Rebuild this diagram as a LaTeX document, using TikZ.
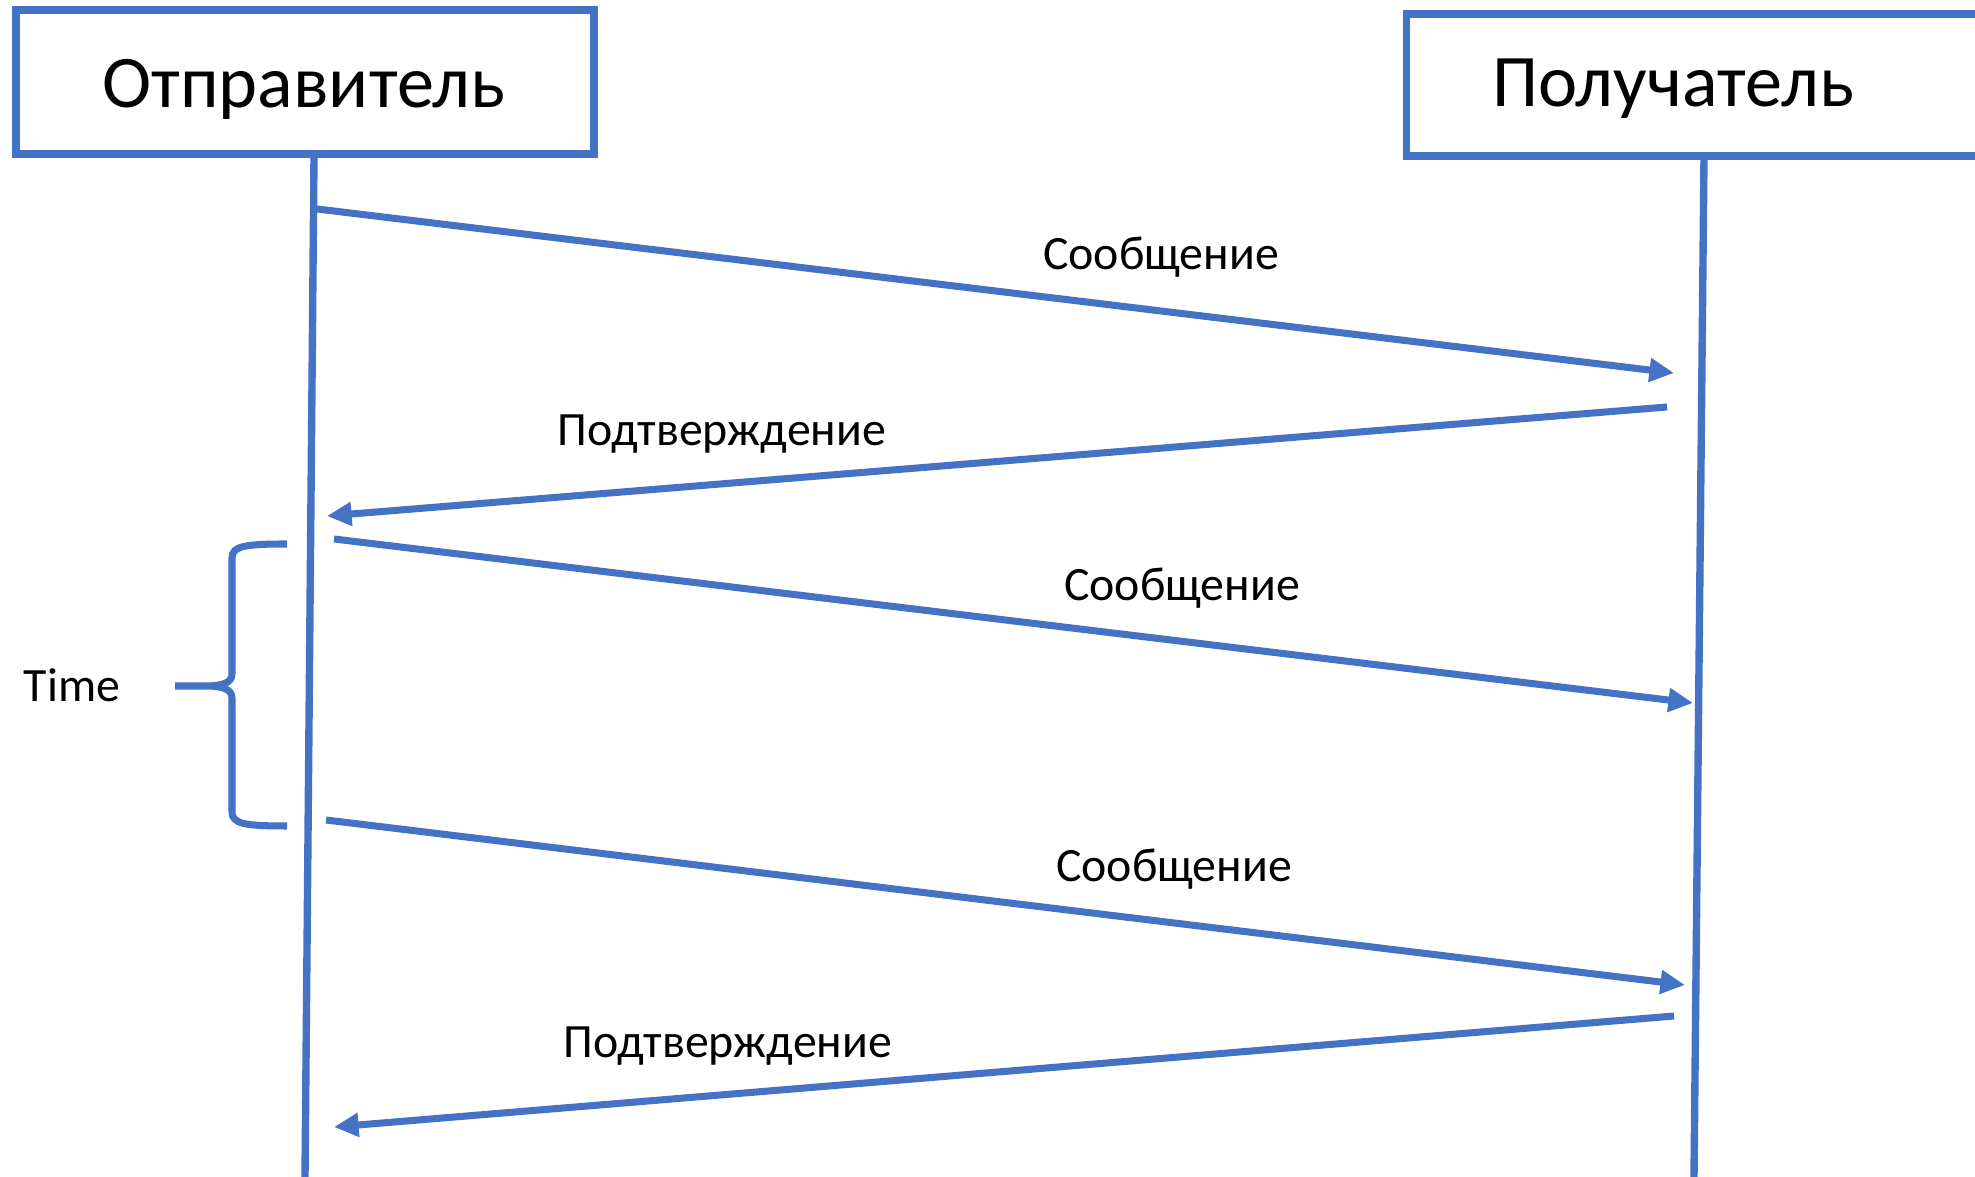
\documentclass[tikz,border=0pt]{standalone}
\usepackage{fontspec}
\setmainfont{Carlito}
\usepackage{tikz}
\usetikzlibrary{positioning,arrows.meta,calc}
\definecolor{lineblue}{HTML}{4472C4}

\begin{document}
\begin{tikzpicture}[
            x=0.01cm, y=-0.01cm,
            outer sep=0pt,
            % box of a participant
            actor/.style={
                draw=lineblue,
                line width=2.1pt,
                fill=white,
                inner sep=0pt
            },
            % title in the box
            title/.style={
                text=black,
                font=\fontsize{21.1}{25}\selectfont
            },
            % lifeline
            life/.style={
                draw=lineblue,
                line width=2.1pt
            },
            % message arrow
            msg/.style={
                draw=lineblue,
                line width=2pt,
                -{Triangle[length=7pt,width=6.5pt]}
            },
            % label over an arrow
            lbl/.style={
                text=black,
                font=\fontsize{13.6}{16}\selectfont
            }
        ]
            \useasboundingbox (0,0) rectangle (1975,1177);
            \clip (0,0) rectangle (1975,1177);

            % PARTICIPANTS
            \node[actor, minimum width=5.78cm, minimum height=1.44cm] (sender) at (305,82) {};
            \node[title] (sendertext) at (304,89) {Отправитель};
            \node[actor, minimum width=6.03cm, minimum height=1.42cm] (receiver) at (1708,85) {};
            \node[title] (receivertext) at (1673,89) {Получатель};

            % LIFELINES
            \coordinate (sTop) at (314,157);
            \coordinate (sBot) at (305,1177);
            \coordinate (rTop) at (1704,157);
            \coordinate (rBot) at (1694,1177);
            \draw[life] (sTop) -- (sBot);
            \draw[life] (rTop) -- (rBot);

            % MESSAGE ENDS
            \coordinate (m1a) at (317,209);
            \coordinate (m1b) at (1674,373);
            \coordinate (a1a) at (1667,407);
            \coordinate (a1b) at (327,516);
            \coordinate (m2a) at (334,539);
            \coordinate (m2b) at (1693,703);
            \coordinate (m3a) at (326,820);
            \coordinate (m3b) at (1685,985);
            \coordinate (a2a) at (1674,1016);
            \coordinate (a2b) at (334,1127);

            % ARROWS
            \draw[msg] (m1a) -- (m1b);
            \draw[msg] (a1a) -- (a1b);
            \draw[msg] (m2a) -- (m2b);
            \draw[msg] (m3a) -- (m3b);
            \draw[msg] (a2a) -- (a2b);

            % LABELS
            \node[lbl] (m1text) at (1161,257) {Сообщение};
            \node[lbl] (a1text) at (722,434) {Подтверждение};
            \node[lbl] (m2text) at (1182,588) {Сообщение};
            \node[lbl] (m3text) at (1174,869) {Сообщение};
            \node[lbl] (a2text) at (728,1046) {Подтверждение};

            % BRACE FOR THE WAIT
            \draw[lineblue, line width=2pt]
                (287,544) .. controls (245,544) and (232,546) .. (232,558) -- (232,674)
                .. controls (232,683) and (222,686) .. (205,686) -- (175,686)
                (205,686) .. controls (222,686) and (232,689) .. (232,698) -- (232,812)
                .. controls (232,824) and (245,826) .. (287,826);
            \node[lbl] (timetext) at (72,685) {Time};

        \end{tikzpicture}
\end{document}
